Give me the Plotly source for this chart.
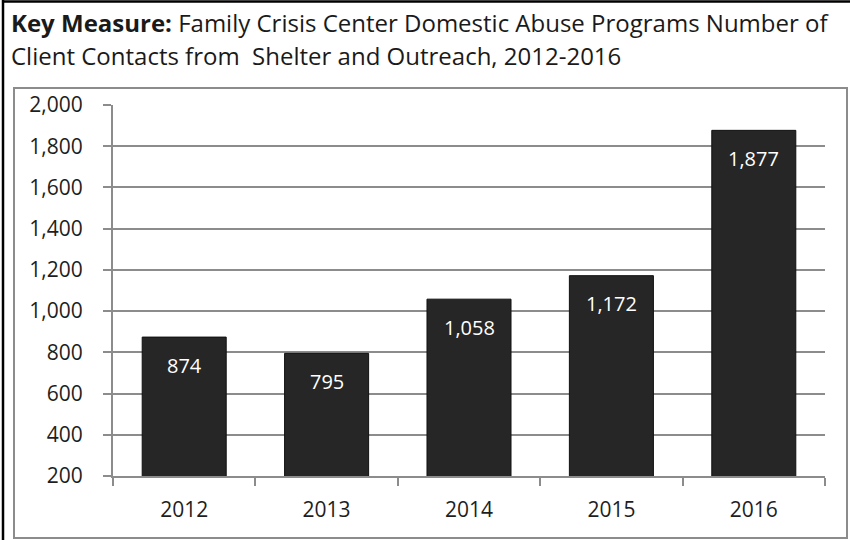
import plotly.graph_objects as go

years = ["2012", "2013", "2014", "2015", "2016"]
contacts = [874, 795, 1058, 1172, 1877]
y_ticks = [200, 400, 600, 800, 1000, 1200, 1400, 1600, 1800, 2000]
y_tick_labels = ["200", "400", "600", "800", "1,000", "1,200", "1,400", "1,600", "1,800", "2,000"]

W, H = 850, 540
L, R, T, B = 113, 825, 105, 476  # plot area in pixels


def px(x):
    return (x - L) / (R - L)


def py(y):
    return (B - y) / (B - T)


FONT = "Open Sans"

fig = go.Figure()
fig.add_trace(go.Bar(
    x=years, y=contacts, base=0,
    marker=dict(color="#262626", line=dict(color="#111111", width=1)),
    width=0.59,
    hoverinfo="skip",
))

for i, v in enumerate(contacts):
    fig.add_annotation(
        x=i, y=v, xref="x", yref="y", text=f"{v:,}", showarrow=False,
        yshift=-28, font=dict(family=FONT, size=20, color="#ffffff"),
    )

# title
fig.add_annotation(
    xref="paper", yref="paper", x=px(9), y=py(23), xanchor="left", yanchor="middle",
    text="<b>Key Measure:</b> Family Crisis Center Domestic Abuse Programs Number of",
    showarrow=False, font=dict(family=FONT, size=24, color="#1a1a1a"),
)
fig.add_annotation(
    xref="paper", yref="paper", x=px(9), y=py(55), xanchor="left", yanchor="middle",
    text="Client Contacts from  Shelter and Outreach, 2012-2016",
    showarrow=False, font=dict(family=FONT, size=24, color="#1a1a1a"),
)

shapes = [
    dict(type="line", xref="paper", yref="paper", x0=px(3), x1=px(3), y0=py(0), y1=py(540),
         line=dict(color="#000000", width=2.5)),
    dict(type="line", xref="paper", yref="paper", x0=px(2), x1=px(850), y0=py(1.5), y1=py(1.5),
         line=dict(color="#000000", width=2.5)),
    dict(type="rect", xref="paper", yref="paper", x0=px(14), x1=px(847), y0=py(88), y1=py(538),
         line=dict(color="#8c8c8c", width=2), layer="below"),
]
fig.update_layout(shapes=shapes)

fig.update_layout(
    width=W, height=H,
    margin=dict(l=L, r=W - R, t=T, b=H - B, pad=0),
    paper_bgcolor="#ffffff", plot_bgcolor="#ffffff",
    showlegend=False,
    font=dict(family=FONT, color="#262626"),
    xaxis=dict(
        type="category", range=[-0.5, 4.5], showgrid=False, showline=True,
        linecolor="#8c8c8c", linewidth=2,
        ticks="outside", ticklen=8, tickcolor="#8c8c8c", tickwidth=2,
        tickson="boundaries", tickangle=0,
        tickfont=dict(family=FONT, size=21, color="#1e1e1e"),
        ticklabelstandoff=14, fixedrange=True,
    ),
    yaxis=dict(
        range=[200, 2000], tickvals=y_ticks, ticktext=y_tick_labels,
        showgrid=True, gridcolor="#8c8c8c", gridwidth=2,
        showline=True, linecolor="#8c8c8c", linewidth=2,
        ticks="outside", ticklen=8, tickcolor="#8c8c8c", tickwidth=2,
        tickfont=dict(family=FONT, size=21, color="#1e1e1e"),
        ticklabelstandoff=16, zeroline=False, fixedrange=True,
    ),
)

fig.write_html(
    "out.html",
    config={"displayModeBar": False},
    post_script="document.body.style.margin='0';document.body.style.overflow='hidden';",
)
